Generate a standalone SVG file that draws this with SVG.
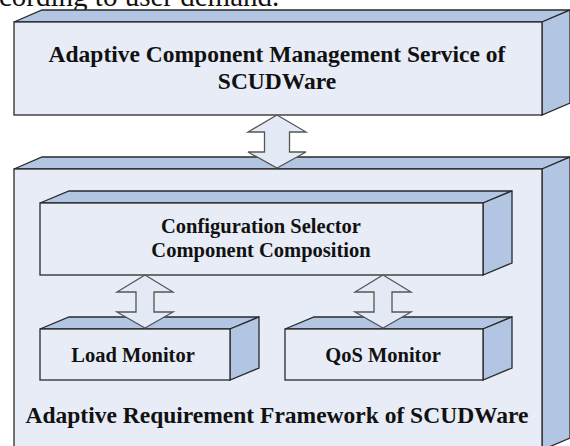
<svg xmlns="http://www.w3.org/2000/svg" width="570" height="446" viewBox="0 0 570 446">
<style>
.front{fill:#e8ecf6;stroke:#2a2a2a;stroke-width:1.3}
.side{fill:#b2c5e2;stroke:#2a2a2a;stroke-width:1.3;stroke-linejoin:miter}
.arrow{fill:#e4eaf5;stroke:#555;stroke-width:1.3;stroke-linejoin:miter}
.big{font-family:"Liberation Serif","Times New Roman",serif;font-weight:bold;font-size:23.5px;fill:#111;text-anchor:middle}
.small{font-family:"Liberation Serif","Times New Roman",serif;font-weight:bold;font-size:20.5px;fill:#111;text-anchor:middle}
.cap{font-family:"Liberation Serif","Times New Roman",serif;font-size:29px;fill:#111}
</style>
<rect width="570" height="446" fill="#fff"/>
<text class="cap" x="-1" y="5.5">cording to user demand.</text>
<g id="acms">
<polygon class="side" points="14,22 42,10 570,10 542,22"/>
<polygon class="side" points="542,22 570,10 570,103 542,115"/>
<rect class="front" x="14" y="22" width="528" height="93"/>
<text class="big" x="277" y="62">Adaptive Component Management Service of</text>
<text class="big" x="277" y="89">SCUDWare</text>
</g>
<g id="arf">
<polygon class="side" points="14,169 42,157 570,157 542,169"/>
<polygon class="side" points="542,169 570,157 570,438 542,450"/>
<rect class="front" x="14" y="169" width="528" height="281"/>
<text class="big" x="277" y="423">Adaptive Requirement Framework of SCUDWare</text>
</g>
<g id="config">
<polygon class="side" points="40,203 69,191 512,191 483,203"/>
<polygon class="side" points="483,203 512,191 512,263 483,275"/>
<rect class="front" x="40" y="203" width="443" height="72"/>
<text class="small" x="261" y="233">Configuration Selector</text>
<text class="small" x="261" y="257">Component Composition</text>
</g>
<g id="load">
<polygon class="side" points="40,329 69,317 259,317 230,329"/>
<polygon class="side" points="230,329 259,317 259,368 230,380"/>
<rect class="front" x="40" y="329" width="190" height="51"/>
<text class="small" x="133" y="362">Load Monitor</text>
</g>
<g id="qos">
<polygon class="side" points="285,329 314,317 512,317 483,329"/>
<polygon class="side" points="483,329 512,317 512,368 483,380"/>
<rect class="front" x="285" y="329" width="198" height="51"/>
<text class="small" x="383" y="362">QoS Monitor</text>
</g>
<g id="connectors">
<path class="arrow" d="M277,115 L306,132 L289.5,132 L289.5,152 L306,152 L277,168 L248,152 L264.5,152 L264.5,132 L248,132 Z"/>
<path class="arrow" d="M145,275 L173,292 L154,292 L154,312 L173,312 L145,328 L117,312 L136,312 L136,292 L117,292 Z"/>
<path class="arrow" d="M383,275 L411,292 L392,292 L392,312 L411,312 L383,328 L355,312 L374,312 L374,292 L355,292 Z"/>
</g>
</svg>
